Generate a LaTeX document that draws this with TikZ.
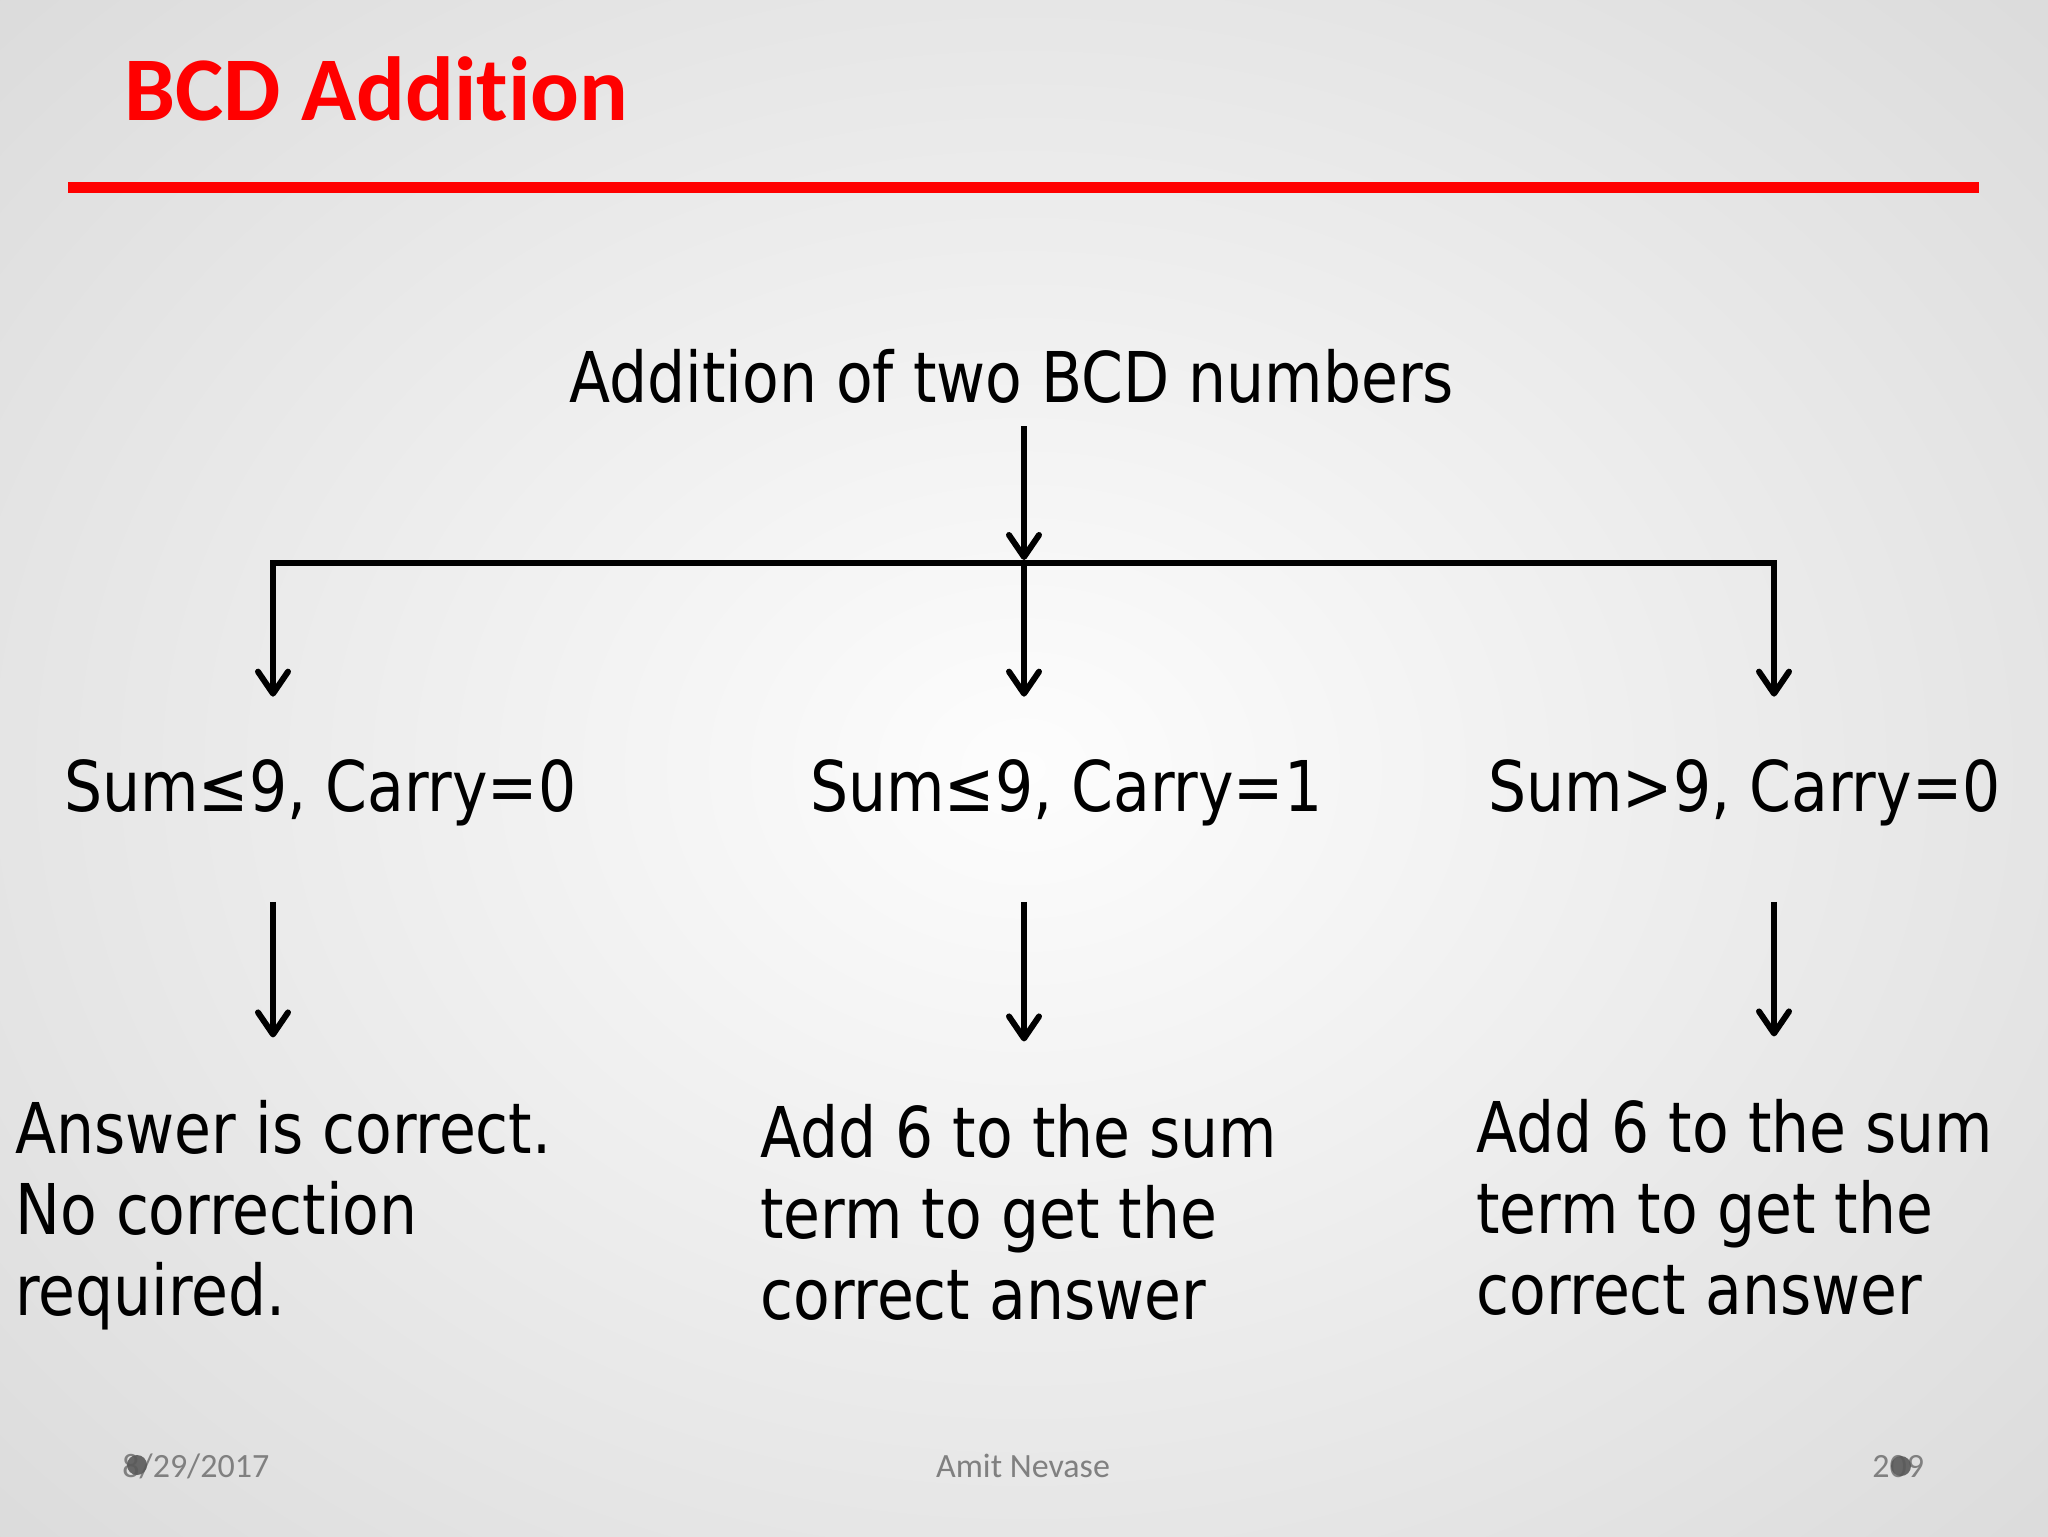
\documentclass[tikz,border=0pt]{standalone}
\usepackage{fontspec}
\setmainfont{Carlito}[Ligatures={NoCommon}]
\newfontfamily\bodyfont[FakeStretch=0.857]{DejaVu Sans}
\usetikzlibrary{arrows.meta}
\definecolor{titlered}{RGB}{255,0,0}
\definecolor{footgray}{RGB}{128,128,128}
\definecolor{bgedge}{RGB}{212,212,212}
\definecolor{bgmid}{RGB}{253,253,253}
\begin{document}
\begin{tikzpicture}[x=0.5pt,y=-0.5pt,
  body/.style={font=\bodyfont\fontsize{35}{40.5}\selectfont, inner sep=0pt, anchor=base west, align=left},
  arr/.style={line width=3pt, -{Straight Barb[length=11pt,width=15pt,round]}},
  link/.style={line width=3pt, line cap=rect},
  foot/.style={font=\fontsize{17}{20}\selectfont, text=footgray, inner sep=0pt, anchor=base west}]
\useasboundingbox (0,0) rectangle (2048,1536);
\shade[inner color=bgmid, outer color=bgedge] (-700,-600) rectangle (2748,2136);
% title
\node[font=\bfseries\fontsize{45.5}{50}\selectfont, text=titlered, inner sep=0pt, anchor=base west] (title) at (124,120) {BCD Addition};
\fill[titlered] (68,182) rectangle (1979,193);
% main node
\node[body] (main) at (569,402) {Addition of two BCD numbers};
\coordinate (j) at (1024,563);
\coordinate (jl) at (273,563);
\coordinate (jr) at (1774,563);
% cases
\node[body] (s1) at (64,811) {Sum≤9, Carry=0};
\node[body] (s2) at (810,811) {Sum≤9, Carry=1};
\node[body] (s3) at (1488,811) {Sum>9, Carry=0};
% results (anchor = baseline of last line)
\node[body] (b1) at (15,1315) {Answer is correct.\\No correction\\required.};
\node[body] (b2) at (760,1319) {Add 6 to the sum\\term to get the\\correct answer};
\node[body] (b3) at (1476,1314) {Add 6 to the sum\\term to get the\\correct answer};
% connectors
\draw[arr] (main.south -| j) ++(0,23) -- ([yshift=1.5pt]j);
\draw[link] (jl) -- (jr);
\draw[arr] (jl) -- ([yshift=31pt]s1.north -| jl);
\draw[arr] (j) -- ([yshift=31pt]s2.north -| j);
\draw[arr] (jr) -- ([yshift=31pt]s3.north -| jr);
\draw[arr] ([yshift=-38pt]s1.south -| jl) -- ([yshift=31pt]b1.north -| jl);
\draw[arr] ([yshift=-38pt]s2.south -| j) -- ([yshift=31pt]b2.north -| j);
\draw[arr] ([yshift=-38pt]s3.south -| jr) -- ([yshift=31pt]b3.north -| jr);
% footer
\node[foot] (date) at (122,1477) {8/29/2017};
\node[foot, anchor=base] (author) at (1023,1477) {Amit Nevase};
\node[foot] (page) at (1872,1477) {209};
\fill[black!65, opacity=0.9] (137,1465) circle (10);
\fill[black!65, opacity=0.9] (1901,1466) circle (10);
\end{tikzpicture}
\end{document}
